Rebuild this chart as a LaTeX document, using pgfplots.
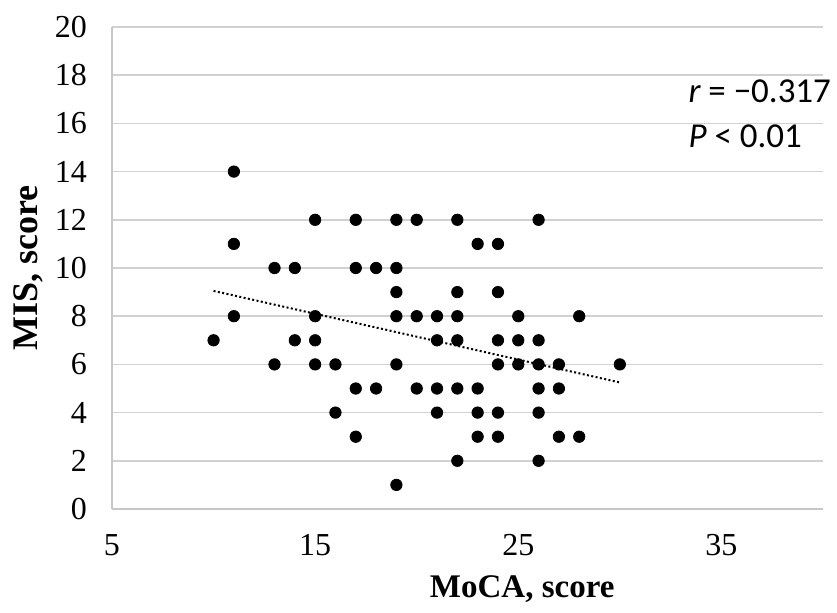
\documentclass[border=0pt]{standalone}
\usepackage{fontspec}
\setmainfont{Liberation Serif}
\newfontfamily\calfont{Carlito}
\usepackage{pgfplots}
\pgfplotsset{compat=1.18}

\pgfplotstableset{col sep=space}

\begin{document}
\begin{tikzpicture}
  % fix the page to the reference proportions (axis box at 0,0)
  \path[use as bounding box] (-56pt,-51.5pt) rectangle (362.5pt,254.5pt);
  \begin{axis}[
    scale only axis,
    width=355.5pt, height=241pt,
    xmin=5, xmax=40, ymin=0, ymax=20,
    xtick={5,15,25,35},
    ytick={0,2,...,20},
    axis lines=left,
    axis line style={-, draw=black!22, line width=0.8pt},
    major tick length=0pt,
    ymajorgrids,
    grid style={black!18, line width=0.8pt},
    /pgf/number format/assume math mode=true,
    ticklabel style={font=\fontsize{16}{19}\selectfont},
    xticklabel style={yshift=-9pt},
    yticklabel style={xshift=-9pt},
    xlabel={MoCA, score},
    ylabel={MIS, score},
    xlabel style={font=\fontsize{16.5}{20}\selectfont\bfseries,
      at={(axis description cs:0.577,-0.166)}, anchor=center},
    ylabel style={font=\fontsize{18}{21}\selectfont\bfseries,
      at={(axis description cs:-0.118,0.5)}, anchor=center},
    clip=false,
  ]
    \addplot[only marks, mark=*, mark size=2.85pt, black] table {
x y
11 14
15 12
17 12
19 12
20 12
22 12
26 12
11 11
23 11
24 11
13 10
14 10
17 10
18 10
19 10
19 9
22 9
24 9
11 8
15 8
19 8
20 8
21 8
22 8
25 8
28 8
10 7
14 7
15 7
21 7
22 7
24 7
25 7
26 7
13 6
15 6
16 6
19 6
24 6
25 6
26 6
27 6
30 6
17 5
18 5
20 5
21 5
22 5
23 5
26 5
27 5
16 4
21 4
23 4
24 4
26 4
17 3
23 3
24 3
27 3
28 3
22 2
26 2
19 1
    };
    % linear trend line
    \addplot[black, line width=1pt, dash pattern=on 1pt off 1.2pt] coordinates {
      (10,9.05) (30,5.25)
    };
    \node[anchor=base west, inner sep=0pt, font=\calfont\fontsize{17.5}{21}\selectfont]
      at (axis cs:33.36,16.85) {\itshape r\upshape{} = −0.317};
    \node[anchor=base west, inner sep=0pt, font=\calfont\fontsize{17.5}{21}\selectfont]
      at (axis cs:33.36,15.02) {\itshape P\upshape{} < 0.01};
  \end{axis}
\end{tikzpicture}
\end{document}
